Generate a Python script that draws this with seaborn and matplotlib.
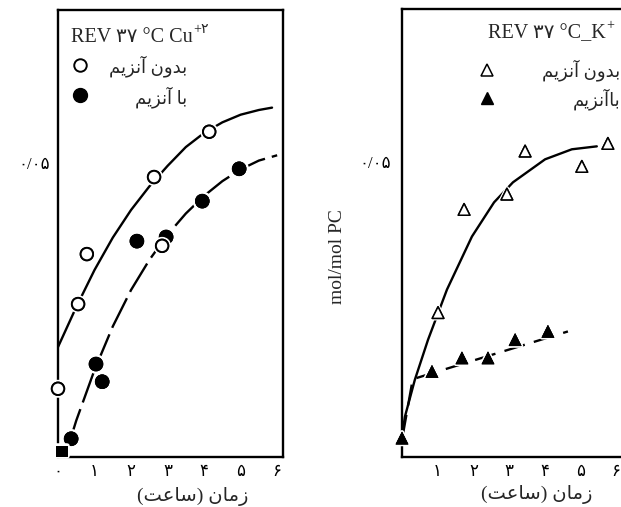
import unicodedata
import matplotlib
matplotlib.use("Agg")
import matplotlib.pyplot as plt
import matplotlib.patheffects as pe
import seaborn as sns

# ---------------- data ----------------
# Cu+2 panel
cu_time_no = [0.0, 0.55, 0.79, 2.63, 2.85, 4.14]
cu_val_no = [0.0116, 0.0260, 0.0345, 0.0476, 0.0359, 0.0553]
cu_time_enz = [0.36, 1.04, 1.21, 2.16, 2.96, 3.95, 4.96]
cu_val_enz = [0.0031, 0.0158, 0.0128, 0.0367, 0.0374, 0.0435, 0.0490]
cu_origin_time = [0.1]
cu_origin_val = [0.0010]
cu_curve_no_t = [0.0, 0.5, 1.0, 1.5, 2.0, 2.5, 3.0, 3.5, 4.0, 4.5, 5.0, 5.5, 5.86]
cu_curve_no_v = [0.0187, 0.0255, 0.0318, 0.0373, 0.0420, 0.0460, 0.0495, 0.0527,
                 0.0551, 0.0569, 0.0582, 0.0590, 0.0594]
cu_curve_enz_t = [0.33, 0.5, 1.0, 1.5, 2.0, 2.5, 3.0, 3.5, 4.0, 4.5, 5.0, 5.5, 6.0]
cu_curve_enz_v = [0.0028, 0.0062, 0.0148, 0.0222, 0.0284, 0.0335, 0.0378, 0.0414,
                  0.0444, 0.0469, 0.0489, 0.0504, 0.0513]

# K+ panel
k_time_no = [1.01, 1.74, 2.94, 3.45, 5.04, 5.77]
k_val_no = [0.0245, 0.0420, 0.0446, 0.0519, 0.0493, 0.0532]
k_time_enz = [0.0, 0.84, 1.68, 2.41, 3.17, 4.09]
k_val_enz = [0.0032, 0.0145, 0.0168, 0.0168, 0.0199, 0.0213]
k_curve_no_t = [0.0, 0.08, 0.36, 0.73, 1.26, 1.96, 2.58, 3.11, 4.01, 4.76, 5.46]
k_curve_no_v = [0.0034, 0.0068, 0.0131, 0.0199, 0.0284, 0.0374, 0.0432, 0.0466,
                0.0505, 0.0522, 0.0527]
k_curve_enz_t = [0.02, 0.30, 4.65]
k_curve_enz_v = [0.0036, 0.0132, 0.0213]

ytick_vals = [0.05]
ytick_labels = ["۰/۰۵"]
cu_xticks = [0, 1, 2, 3, 4, 5, 6]
cu_xlabels = ["۰", "۱", "۲", "۳", "۴", "۵", "۶"]
k_xticks = [1, 2, 3, 4, 5, 6]
k_xlabels = ["۱", "۲", "۳", "۴", "۵", "۶"]

title_cu = "REV ۳۷ °C Cu"
title_cu_sup = "+۲"
title_k = "REV ۳۷ °C_K"
title_k_sup = "+"
lbl_no = "بدون آنزیم"
lbl_enz = "با آنزیم"
lbl_enz_k = "باآنزیم"
xlabel = "زمان (ساعت)"
ylabel = "mol/mol PC"

# ---------------- minimal Persian shaping (matplotlib has no RTL shaping) ----
FORMS = {
    "\u0627": ("\uFE8D", "\uFE8E", None, None),
    "\u0622": ("\uFE81", "\uFE82", None, None),
    "\u0628": ("\uFE8F", "\uFE90", "\uFE91", "\uFE92"),
    "\u062A": ("\uFE95", "\uFE96", "\uFE97", "\uFE98"),
    "\u062F": ("\uFEA9", "\uFEAA", None, None),
    "\u0632": ("\uFEAF", "\uFEB0", None, None),
    "\u0633": ("\uFEB1", "\uFEB2", "\uFEB3", "\uFEB4"),
    "\u0639": ("\uFEC9", "\uFECA", "\uFECB", "\uFECC"),
    "\u0645": ("\uFEE1", "\uFEE2", "\uFEE3", "\uFEE4"),
    "\u0646": ("\uFEE5", "\uFEE6", "\uFEE7", "\uFEE8"),
    "\u0648": ("\uFEED", "\uFEEE", None, None),
    "\u06CC": ("\uFEEF", "\uFEF0", "\uFEF3", "\uFEF4"),
    "\u064A": ("\uFEEF", "\uFEF0", "\uFEF3", "\uFEF4"),
}


def fa(s):
    s = unicodedata.normalize("NFC", s)
    out = []
    for i, c in enumerate(s):
        if c not in FORMS:
            out.append(c)
            continue
        iso, fin, ini, med = FORMS[c]
        prev = s[i - 1] if i > 0 else ""
        nxt = s[i + 1] if i + 1 < len(s) else ""
        jp = prev in FORMS and FORMS[prev][2] is not None
        jn = nxt in FORMS and ini is not None
        if jp and jn:
            out.append(med)
        elif jp:
            out.append(fin)
        elif jn:
            out.append(ini)
        else:
            out.append(iso)
    mirror = {"(": ")", ")": "("}
    return "".join(mirror.get(c, c) for c in reversed(out))


# ---------------- figure ----------------
sns.set_style("white")
plt.rcParams["font.family"] = ["Liberation Serif", "DejaVu Sans"]

W, H = 621, 507
fig = plt.figure(figsize=(W / 100, H / 100), dpi=100)


def rect(l, t, r, b):
    return [l / W, 1 - b / H, (r - l) / W, (b - t) / H]


def P(px, py):
    return px / W, 1 - py / H


ax1 = fig.add_axes(rect(58, 10, 283, 457))
ax2 = fig.add_axes(rect(402, 9, 625, 457))

halo = [pe.withStroke(linewidth=4, foreground="white")]
LW = 1.7

# --- Cu panel
sns.lineplot(x=cu_curve_no_t, y=cu_curve_no_v, ax=ax1, color="black", lw=LW,
             sort=False, estimator=None, zorder=2)
sns.lineplot(x=cu_curve_enz_t, y=cu_curve_enz_v, ax=ax1, color="black", lw=LW,
             sort=False, estimator=None, linestyle=(0, (14, 3)), zorder=2)
sns.scatterplot(x=cu_time_no, y=cu_val_no, ax=ax1, marker="o", s=80,
                color="white", edgecolor="black", linewidth=1.4, zorder=4,
                clip_on=False)
sns.scatterplot(x=cu_time_enz, y=cu_val_enz, ax=ax1, marker="o", s=100,
                color="black", edgecolor="black", linewidth=0.5, zorder=3,
                clip_on=False)
sns.scatterplot(x=cu_origin_time, y=cu_origin_val, ax=ax1, marker="s", s=60,
                color="black", edgecolor="black", zorder=3, clip_on=False)
for coll in ax1.collections:
    coll.set_path_effects(halo + [pe.Normal()])

# --- K panel
sns.lineplot(x=k_curve_no_t, y=k_curve_no_v, ax=ax2, color="black", lw=LW,
             sort=False, estimator=None, zorder=2)
sns.lineplot(x=k_curve_enz_t, y=k_curve_enz_v, ax=ax2, color="black", lw=LW,
             sort=False, estimator=None, linestyle=(0, (9, 4)), zorder=2)
sns.scatterplot(x=k_time_no, y=k_val_no, ax=ax2, marker="^", s=70,
                color="white", edgecolor="black", linewidth=1.1, zorder=4,
                clip_on=False)
sns.scatterplot(x=k_time_enz, y=k_val_enz, ax=ax2, marker="^", s=75,
                color="black", edgecolor="black", linewidth=0.5, zorder=3,
                clip_on=False)
for coll in ax2.collections:
    coll.set_path_effects([pe.withStroke(linewidth=3, foreground="white"), pe.Normal()])

# --- axes styling
for ax in (ax1, ax2):
    ax.set_ylim(0, 0.076)
    ax.set_yticks(ytick_vals)
    ax.set_yticklabels(ytick_labels)
    ax.set_xlabel("")
    ax.set_ylabel("")
    for sp in ax.spines.values():
        sp.set_linewidth(1.7)
        sp.set_color("black")
    ax.tick_params(length=0, labelsize=12, colors="black")
    ax.set_facecolor("white")

ax1.set_xlim(0, 6.16)
ax1.set_xticks(cu_xticks)
ax1.set_xticklabels(cu_xlabels)
ax1.tick_params(axis="x", pad=5)
ax1.tick_params(axis="y", pad=6)

ax2.set_xlim(0, 6.25)
ax2.set_xticks(k_xticks)
ax2.set_xticklabels(k_xlabels)
ax2.tick_params(axis="x", pad=5)
ax2.tick_params(axis="y", pad=8)

# --- texts
fs = 14.5
t1 = fig.text(*P(71, 42), title_cu, fontsize=fs, ha="left", va="baseline")
t2 = fig.text(*P(488, 38), title_k, fontsize=fs, ha="left", va="baseline")
fig.canvas.draw()
r = fig.canvas.get_renderer()
for t, sup in ((t1, title_cu_sup), (t2, title_k_sup)):
    bb = t.get_window_extent(r)
    fig.text(bb.x1 / W + 0.001, (bb.y1 - 5) / H, sup, fontsize=10,
             ha="left", va="baseline")

fsa = 13
fig.text(*P(187, 66), fa(lbl_no), fontsize=fsa, ha="right", va="center")
fig.text(*P(187, 97), fa(lbl_enz), fontsize=fsa, ha="right", va="center")
fig.text(*P(620, 70), fa(lbl_no), fontsize=fsa, ha="right", va="center")
fig.text(*P(620, 99), fa(lbl_enz_k), fontsize=fsa, ha="right", va="center")

# legend symbols
ax1.plot(*P(80, 65), marker="o", ms=9, mfc="white", mec="black", mew=1.4,
         transform=fig.transFigure, clip_on=False, ls="none")
ax1.plot(*P(80, 95), marker="o", ms=10, mfc="black", mec="black",
         transform=fig.transFigure, clip_on=False, ls="none")
ax2.plot(*P(487, 70), marker="^", ms=8, mfc="white", mec="black", mew=1.1,
         transform=fig.transFigure, clip_on=False, ls="none")
ax2.plot(*P(487, 98), marker="^", ms=9, mfc="black", mec="black",
         transform=fig.transFigure, clip_on=False, ls="none")

fig.text(*P(193, 496), fa(xlabel), fontsize=14, ha="center", va="center")
fig.text(*P(537, 494), fa(xlabel), fontsize=14, ha="center", va="center")
fig.text(*P(338, 257), ylabel, fontsize=14, rotation=90, ha="center", va="center")

fig.savefig("out.png", dpi=100, facecolor="white")
